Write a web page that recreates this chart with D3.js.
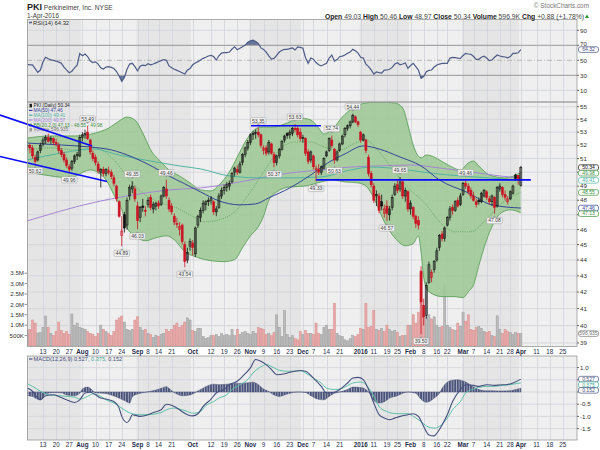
<!DOCTYPE html>
<html><head><meta charset="utf-8">
<script src="https://cdn.jsdelivr.net/npm/d3@7"></script>
<style>body{margin:0;background:#fff}svg{display:block;font-family:"Liberation Sans",Arial,sans-serif}</style>
</head><body><svg id="chart" width="600" height="450"></svg>
<script>
// ---------------- DATA ----------------
const symbol = "PKI", company = "Perkinelmer, Inc.", exchange = "NYSE", asOf = "1-Apr-2016";
const firstSession = "2015-07-02", lastSession = "2016-04-29", anchorSession = "2015-07-13";
const holidays = ["2015-07-03","2015-09-07","2015-11-26","2015-12-25","2016-01-01","2016-01-18","2016-02-15","2016-03-25"];

// daily series, one value per session from 2015-07-02 to 2016-04-01
const opens = [52.0,52.0,51.8,51.1,50.9,51.6,52.1,52.4,52.6,52.4,
52.5,52.2,52.0,51.6,51.3,50.9,50.4,50.3,50.8,51.2,
51.2,52.6,52.8,53.0,52.4,51.4,51.1,50.6,50.0,50.2,
49.9,50.1,50.0,49.6,49.0,47.9,45.6,47.0,46.3,48.3,
48.8,48.8,47.6,46.8,47.6,47.3,47.7,48.2,47.4,47.6,
47.8,47.7,48.3,48.8,48.0,47.6,46.9,46.4,46.0,46.3,
45.0,44.0,44.9,45.1,44.4,46.3,46.8,47.3,47.7,47.9,
48.0,47.9,47.2,47.5,48.3,48.7,48.9,49.0,49.3,50.0,
50.2,50.0,50.7,51.3,51.8,52.2,52.8,52.9,53.0,52.8,
51.6,51.8,51.5,52.1,51.3,50.7,51.2,51.7,52.4,52.9,
52.8,52.9,53.3,53.3,53.0,52.5,52.5,51.5,50.9,51.2,
50.2,50.2,50.0,50.3,51.2,51.6,52.4,51.7,50.9,51.6,
52.1,52.8,53.3,53.5,53.8,54.2,53.8,53.0,52.4,52.4,
51.1,49.9,49.0,48.3,48.3,47.9,47.1,47.6,47.0,47.5,
48.4,49.1,48.8,49.3,48.3,48.6,47.4,47.5,46.9,46.6,
43.3,41.2,40.6,42.6,42.9,43.4,44.0,44.8,45.7,45.4,
46.3,46.8,47.5,47.3,48.0,47.7,48.4,49.2,49.0,48.7,
48.3,47.9,48.0,47.9,48.3,48.6,48.1,47.9,48.2,47.6,
48.8,48.9,48.4,47.9,48.1,48.5,49.8,49.75,49.03];
const highs = [52.3,52.1,52.0,51.3,51.6,52.2,52.6,52.8,52.9,52.7,
52.6,52.5,52.2,51.8,51.5,51.1,50.6,50.9,51.3,51.5,
52.8,53.0,53.2,53.49,52.5,51.6,51.3,50.8,50.3,50.4,
50.3,50.4,50.2,49.8,49.1,48.0,46.9,47.2,48.2,49.1,
49.35,49.0,47.9,47.6,48.1,47.6,48.2,48.4,47.9,47.9,
48.0,48.4,49.0,49.46,48.2,47.8,47.1,46.8,46.5,46.4,
45.2,44.8,45.4,45.3,46.2,47.0,47.5,48.0,48.0,48.2,
48.3,48.0,47.6,48.5,48.9,49.1,49.3,49.4,50.0,50.4,
50.5,50.8,51.4,51.9,52.4,52.9,53.1,53.2,53.35,52.9,
52.0,52.0,52.4,52.2,51.5,51.3,51.8,52.4,52.8,53.0,
53.2,53.4,53.63,53.5,53.3,52.8,52.6,51.7,51.6,51.3,
50.5,50.6,50.5,51.1,51.6,52.6,52.74,51.8,51.6,52.2,
52.8,53.4,53.6,53.9,54.44,54.3,53.9,53.1,52.9,52.5,
51.3,50.1,49.2,48.7,48.5,48.4,47.7,48.0,47.6,48.4,
49.2,49.5,49.65,49.5,48.9,48.7,48.0,47.6,47.0,46.9,
43.6,41.6,42.6,43.9,43.4,44.0,44.8,45.7,45.9,46.2,
46.9,47.6,47.7,48.0,48.2,48.5,49.3,49.46,49.2,48.9,
48.6,48.1,48.2,48.6,48.8,48.7,48.3,48.4,48.3,49.0,
49.2,49.0,48.7,48.3,48.7,49.1,49.9,49.8,50.46];
const lows = [51.6,51.4,51.0,50.62,50.8,51.4,51.9,52.1,52.2,52.1,
52.0,51.9,51.4,51.1,50.7,50.3,49.96,50.1,50.6,50.9,
51.1,52.3,52.5,52.4,51.3,50.8,50.5,49.9,48.9,49.7,
49.7,49.8,49.5,49.0,47.9,46.8,44.89,45.8,46.0,48.0,
48.5,47.9,46.03,46.5,47.2,46.9,47.5,47.3,47.1,47.3,
47.4,47.6,48.2,48.1,47.2,47.0,46.3,46.1,45.6,45.0,
43.54,43.8,44.6,44.3,44.2,46.1,46.5,47.1,47.3,47.6,
47.7,47.0,46.9,47.4,48.1,48.4,48.6,48.7,49.2,49.7,
49.8,49.9,50.5,51.1,51.6,52.0,52.4,52.5,52.6,51.8,
51.3,51.2,51.3,51.3,50.37,50.5,51.0,51.6,52.2,52.5,
52.5,52.7,53.0,52.6,52.3,52.2,51.2,50.6,50.7,50.2,
49.33,49.8,49.8,50.2,51.1,51.5,51.8,50.63,50.8,51.5,
52.0,52.6,53.1,53.3,53.7,53.7,53.4,52.2,52.3,51.4,
49.7,48.9,47.8,47.6,47.1,47.3,46.8,46.57,46.6,47.3,
48.3,48.5,48.6,48.1,47.9,47.2,47.0,46.7,46.1,46.0,
39.50,40.0,40.4,42.5,42.6,43.2,43.9,44.6,45.2,45.2,
46.2,46.6,47.0,47.2,47.5,47.6,48.3,48.8,48.4,48.1,
47.9,47.5,47.7,47.8,48.2,48.0,47.7,47.6,47.08,47.5,
48.6,48.2,48.0,47.7,48.0,48.4,49.4,49.1,48.97];
const closes = [51.9,51.8,51.2,50.8,51.5,52.0,52.4,52.6,52.3,52.5,
52.2,52.1,51.6,51.3,50.9,50.5,50.2,50.8,51.2,51.3,
52.6,52.8,52.9,52.5,51.5,51.0,50.7,50.1,50.2,49.9,
50.2,50.0,49.7,49.2,48.1,46.9,45.9,46.1,48.0,48.9,
49.0,48.1,46.6,47.5,47.5,47.3,48.0,47.5,47.7,47.8,
47.6,48.3,48.9,48.3,47.4,47.2,46.5,46.4,46.2,45.2,
43.9,44.5,45.2,44.8,46.1,46.9,47.3,47.8,47.9,48.0,
48.1,47.2,47.4,48.3,48.7,48.9,49.1,49.2,49.9,50.3,
50.0,50.6,51.3,51.8,52.2,52.8,52.9,53.0,52.8,52.0,
51.8,51.4,52.2,51.4,50.7,51.2,51.7,52.3,52.7,52.75,
53.0,53.3,53.2,52.8,52.5,52.6,51.4,50.8,51.5,50.4,
50.3,50.0,50.4,51.0,51.5,52.5,52.0,50.9,51.5,52.1,
52.7,53.3,53.5,53.8,54.3,53.8,53.6,52.4,52.8,51.6,
49.9,49.1,48.0,48.4,47.3,47.6,47.4,47.1,47.4,48.2,
49.0,48.7,49.3,48.3,48.7,47.4,47.8,46.9,46.4,46.3,
41.4,40.5,42.4,43.7,43.2,43.9,44.6,45.6,45.4,46.1,
46.8,47.4,47.3,47.9,47.6,48.3,49.2,49.0,48.6,48.3,
48.0,47.7,47.9,48.5,48.7,48.2,47.9,48.3,47.5,48.9,
49.0,48.4,48.2,48.1,48.6,49.0,49.55,49.46,50.34];
const volumes = [0.77,0.80,1.25,1.10,0.62,0.65,0.90,1.44,0.90,0.60,
0.50,0.70,1.15,0.75,0.60,0.70,0.55,1.54,1.00,1.10,
0.90,0.85,0.80,0.70,0.60,0.55,0.45,0.60,1.00,0.80,
0.70,0.60,0.50,0.70,1.25,1.35,1.44,1.15,0.80,0.75,
0.80,1.25,1.40,0.90,0.75,0.80,0.60,0.55,0.40,0.50,
0.45,0.55,0.60,0.80,0.70,0.80,1.00,1.10,0.90,1.00,
1.15,1.35,1.25,0.75,0.70,0.85,0.85,0.45,0.35,0.40,
0.50,0.50,0.55,0.45,0.60,0.50,0.55,0.50,0.80,0.50,
0.80,0.55,0.65,0.70,0.60,0.55,0.70,0.60,0.88,0.85,
0.80,0.55,0.60,0.50,0.65,1.50,0.90,0.45,1.70,0.55,
0.40,0.50,0.35,0.30,0.70,0.55,0.75,0.60,0.60,0.55,
1.10,0.60,0.55,0.90,1.00,0.80,0.80,2.05,0.60,0.50,
0.45,0.30,0.25,0.35,0.50,0.45,0.55,0.85,0.80,2.05,
0.90,0.95,1.70,0.80,0.75,0.85,0.70,1.00,0.80,0.70,
0.75,0.65,0.45,0.50,0.50,1.00,1.00,1.50,1.10,1.60,
3.55,1.35,1.40,1.50,1.30,1.40,1.00,0.90,0.95,2.93,
1.00,0.90,0.80,0.75,1.10,0.95,1.60,1.20,1.50,0.80,
0.75,0.90,0.95,0.85,0.70,0.65,0.70,0.50,0.45,1.45,
0.80,0.60,0.80,0.70,0.65,0.55,0.65,0.60,0.596935];
const rsi14 = [44.6,44.0,43.8,39,34,37,48,54,52,50.5,
50,49,47.5,46,41,37,33.5,35.5,40,43.5,
59,56,58.4,55,49,47,48,45,40,38.4,
41,41.5,40.5,39,35,29,22,27,38,45,
46,41.5,36,42,43.5,42.8,45.5,44,45,46.5,
48,49.5,51,50,42.5,40,38,36.5,35,33.5,
31.7,37,39,44,46.5,48.2,50.5,52.6,54,55.7,
56.5,55,50.4,56,59.5,60.2,60.2,61,65,68,
64,66,68,70,74,76,77,75,72.6,66.5,
64.5,61,56,51.7,52.6,56.5,61,63.5,64.6,64.6,
65.5,66.4,63.7,68,67.3,66,53.5,46,53,51.5,
47,44,42.5,44.5,46,53,57,49,51,54.8,
55.5,57,59.5,61,64.6,62.8,59.5,54,53,45,
41.5,37.1,31.7,34.5,33.5,32.8,37,37.1,38,40.5,
45,46.8,44,45,46.5,39.3,43,46,41.5,37,
26,28.2,34.8,36.5,37.1,41,43.7,45,46,46,
46,53,54,53.5,53,52.6,56.5,59.3,58.4,58,
55,51.3,51.3,54,55.5,53,49.5,50.4,54,57.1,
55.7,55,54.4,53.4,55,59.3,59.3,60,64.32];

// overlays: [session offset from 2015-07-13, value]
const ma50 = [[-6,52.17],[7,52.02],[18,51.87],[26,51.65],[34,51.12],[42,50.38],[48,49.73],[54,49.16],[60,48.59],[67,47.96],[75,47.68],[81,47.75],[86,48.17],[94,48.87],[102,49.80],[109,50.75],[115,51.35],[122,51.95],[128,51.72],[136,51.12],[144,50.46],[151,49.44],[162,48.52],[171,47.68],[182,47.46]];
const ma100 = [[-6,50.90],[7,51.42],[19,51.72],[29,51.27],[41,50.82],[52,50.46],[60,50.24],[71,49.73],[83,49.59],[94,49.59],[106,49.66],[117,50.16],[125,50.38],[136,50.24],[147,49.95],[159,49.73],[170,49.59],[182,49.41]];
const ma200 = [[-6,46.58],[3,47.06],[14,47.61],[26,48.10],[37,48.45],[48,48.73],[60,48.87],[71,49.16],[83,49.59],[94,49.95],[106,50.16],[117,50.38],[128,50.46],[140,50.53],[151,50.31],[163,50.02],[174,49.73],[182,49.57]];
const bbUpper = [[-6,52.55],[3,52.71],[12,52.71],[20,52.94],[25,53.32],[29,53.87],[32,54.18],[35,53.95],[38,52.94],[41,51.65],[45,50.75],[48,50.16],[52,49.73],[56,49.23],[60,48.73],[64,48.66],[67,49.08],[71,50.02],[74,51.12],[77,52.25],[80,53.09],[83,53.40],[88,53.40],[93,53.71],[98,54.10],[102,53.95],[105,53.32],[107,52.86],[110,53.17],[114,54.18],[118,54.90],[123,55.30],[128,55.38],[134,55.30],[137,54.90],[139,53.56],[141,52.02],[144,51.05],[146,51.27],[148,51.20],[151,50.90],[155,50.46],[159,50.16],[162,50.68],[164,50.82],[166,50.46],[170,49.80],[176,49.59],[182,49.98]];
const bbMiddle = [[-6,51.65],[3,51.80],[12,51.65],[20,51.80],[27,50.90],[33,49.44],[39,48.38],[45,47.82],[50,47.54],[56,46.99],[62,46.52],[67,46.65],[73,47.20],[79,48.59],[85,50.31],[90,51.65],[96,52.25],[102,52.25],[107,51.87],[113,51.65],[119,52.17],[123,52.40],[128,51.50],[134,50.02],[140,48.73],[146,47.68],[151,46.52],[157,45.85],[163,45.85],[168,46.52],[174,47.68],[182,48.55]];
const bbLower = [[-6,50.02],[3,49.73],[10,49.59],[18,50.16],[24,49.44],[27,48.38],[30,47.34],[32,46.12],[35,45.58],[39,45.25],[43,45.45],[47,45.58],[50,45.32],[54,44.54],[58,44.22],[64,43.96],[69,43.90],[73,44.03],[76,44.80],[79,45.58],[82,46.18],[84,46.90],[86,48.00],[89,48.59],[94,48.94],[100,49.01],[106,49.30],[110,49.44],[115,49.30],[120,49.23],[123,49.01],[126,48.17],[130,46.52],[134,45.45],[138,44.93],[141,45.06],[143,45.58],[144,44.54],[145,42.89],[147,42.02],[152,41.72],[157,41.72],[160,41.66],[162,42.02],[164,42.45],[166,43.64],[168,44.80],[170,45.78],[172,46.52],[174,47.06],[178,47.34],[182,47.13]];
const macdLine = [[-6,0.16],[-4,0.03],[-2,-0.25],[-1,-0.32],[1,-0.15],[4,-0.11],[6,-0.18],[9,-0.32],[12,-0.43],[14,-0.32],[16,-0.04],[18,-0.01],[20,-0.11],[22,-0.25],[24,-0.29],[27,-0.39],[29,-0.66],[30,-1.0],[32,-1.25],[33,-1.14],[34,-0.93],[36,-0.98],[37,-1.0],[40,-0.93],[42,-0.84],[45,-0.73],[47,-0.5],[50,-0.59],[52,-0.73],[55,-0.93],[57,-0.98],[59,-0.89],[61,-0.59],[64,-0.29],[66,-0.04],[69,0.1],[71,0.3],[74,0.44],[76,0.64],[79,0.99],[81,1.33],[83,1.26],[85,1.12],[87,0.92],[89,0.71],[92,0.75],[94,0.81],[98,0.88],[100,0.85],[103,0.57],[106,0.23],[108,-0.04],[111,-0.01],[113,0.1],[116,0.37],[118,0.57],[120,0.6],[122,0.51],[124,0.1],[126,-0.45],[128,-0.93],[130,-1.07],[132,-1.14],[134,-1.07],[136,-1.0],[139,-0.93],[141,-0.89],[143,-1.0],[145,-1.41],[147,-1.76],[149,-1.8],[150,-1.69],[152,-1.35],[154,-0.93],[156,-0.39],[159,0.1],[161,0.3],[164,0.27],[166,0.23],[169,0.3],[172,0.27],[174,0.29],[177,0.31],[179,0.37],[182,0.527]];
const macdSignal = [[-6,0.34],[-4,0.23],[-1,0.03],[1,-0.08],[4,-0.14],[6,-0.15],[9,-0.18],[12,-0.21],[14,-0.29],[17,-0.18],[19,-0.08],[22,-0.18],[24,-0.32],[27,-0.45],[29,-0.59],[32,-0.8],[34,-0.89],[37,-0.93],[40,-0.93],[42,-0.91],[45,-0.84],[47,-0.73],[50,-0.66],[52,-0.7],[55,-0.8],[57,-0.87],[60,-0.8],[62,-0.56],[65,-0.39],[67,-0.25],[70,-0.11],[72,0.1],[75,0.3],[78,0.51],[80,0.78],[83,1.03],[85,1.12],[88,0.99],[90,0.89],[93,0.85],[95,0.85],[98,0.87],[100,0.78],[103,0.57],[106,0.37],[108,0.16],[111,0.1],[113,0.12],[116,0.26],[118,0.37],[121,0.41],[123,0.3],[126,-0.18],[128,-0.59],[131,-0.8],[133,-0.87],[136,-0.89],[139,-0.89],[141,-1.0],[144,-1.21],[146,-1.39],[149,-1.48],[151,-1.41],[154,-1.07],[156,-0.73],[159,-0.39],[161,-0.04],[164,0.12],[166,0.19],[169,0.23],[172,0.23],[174,0.26],[177,0.29],[179,0.32],[182,0.375]];
const macdHist = [[-6,-0.15],[-4,-0.18],[-2,-0.3],[-1,-0.32],[1,-0.08],[4,-0.02],[7,-0.03],[9,-0.12],[12,-0.15],[14,-0.05],[15,0.12],[17,0.2],[19,0.05],[20,-0.04],[23,-0.05],[26,-0.12],[28,-0.2],[31,-0.35],[33,-0.45],[34,-0.2],[36,-0.08],[38,-0.03],[41,0.03],[43,0.08],[45,0.15],[47,0.22],[48,0.15],[49,0.05],[51,-0.08],[53,-0.15],[56,-0.12],[58,-0.02],[60,0.1],[62,0.22],[65,0.32],[67,0.3],[70,0.32],[73,0.35],[75,0.35],[78,0.38],[80,0.4],[82,0.3],[84,0.12],[86,0.02],[88,-0.12],[90,-0.18],[92,-0.12],[94,-0.05],[97,0.0],[100,-0.02],[102,-0.15],[105,-0.3],[107,-0.32],[109,-0.18],[111,-0.05],[113,0.0],[116,0.1],[118,0.2],[121,0.18],[123,0.1],[125,-0.15],[126,-0.35],[128,-0.45],[130,-0.4],[132,-0.25],[135,-0.15],[137,-0.05],[139,0.0],[142,-0.05],[144,-0.3],[146,-0.42],[147,-0.4],[149,-0.25],[151,-0.05],[152,0.15],[154,0.4],[156,0.48],[158,0.5],[160,0.45],[162,0.35],[164,0.2],[166,0.1],[168,0.05],[170,0.05],[173,0.04],[175,0.04],[178,0.05],[180,0.1],[182,0.152]];

// swing-point annotations: [session offset, H/L]
const swings = [[-3,"L"],[10,"L"],[17,"H"],[30,"L"],[34,"H"],[36,"L"],[47,"H"],[54,"L"],[82,"H"],[88,"L"],[96,"H"],[104,"L"],[110,"H"],[111,"L"],[118,"H"],[131,"L"],[136,"H"],[144,"L"],[161,"H"],[172,"L"]];
// drawn trend lines: [offset1, price1, offset2, price2]
const trendLines = [[-16.4,54.34,18.7,51.95],[-16.4,51.16,24.4,49.33],[79.2,53.50,105.9,53.50],[104,49.44,185.8,49.44]];

const tickDates = ["2015-07-13","2015-07-20","2015-07-27","2015-08-03","2015-08-10","2015-08-17","2015-08-24","2015-09-01","2015-09-08","2015-09-14","2015-09-21","2015-10-01","2015-10-12","2015-10-19","2015-10-26","2015-11-02","2015-11-09","2015-11-16","2015-11-23","2015-12-01","2015-12-07","2015-12-14","2015-12-21","2016-01-04","2016-01-11","2016-01-19","2016-01-25","2016-02-01","2016-02-08","2016-02-16","2016-02-22","2016-03-01","2016-03-07","2016-03-14","2016-03-21","2016-03-28","2016-04-01","2016-04-11","2016-04-18","2016-04-25"];
const tickLabels = ["13","20","27","Aug","10","17","24","Sep","8","14","21","Oct","12","19","26","Nov","9","16","23","Dec","7","14","21","2016","11","19","25","Feb","8","16","22","Mar","7","14","21","28","Apr","11","18","25"];
const priceTicks = [39,40,41,42,43,44,45,46,47,48,49,50,51,52,53,54,55];
const volumeTicks = [0.5,1.0,1.5,2.0,2.5,3.0,3.5];
const volumeTickLabels = ["500K","1.0M","1.5M","2.0M","2.5M","3.0M","3.5M"];
const rsiTicks = [10,30,50,70,90];
const macdTicks = [-1.5,-1.0,-0.5,0.0,0.5,1.0];

// ---------------- CHART ----------------
const svg = d3.select("#chart");
svg.append("rect").attr("width",600).attr("height",450).attr("fill","#fff");
const parse = d3.utcParse("%Y-%m-%d"), fmt = d3.utcFormat("%Y-%m-%d");
const sessions = [];
for (let d = parse(firstSession); d <= parse(lastSession); d = d3.utcDay.offset(d,1)) {
  const wd = d.getUTCDay(), s = fmt(d);
  if (wd===0 || wd===6 || holidays.includes(s)) continue;
  sessions.push(s);
}
const base = sessions.indexOf(anchorSession);
const idx = s => sessions.indexOf(s) - base;
const N = closes.length;
const last = a => a[a.length-1][1];

const L = 27, R = 577;
const PR = [19.5,102], PM = [102,346.5], PD = [356,440];
const x = d3.scaleLinear().domain([-6.1,203.4]).range([L,R]);
const yP = d3.scaleLog().domain([38.8,55.38]).range([PM[1],PM[0]]);
const yV = d3.scaleLinear().domain([0,3.5]).range([346,273.2]);
const yR = d3.scaleLinear().domain([0,100]).range([97.8,22.8]);
const yM = d3.scaleLinear().domain([-1.5,1.0]).range([428.6,367.6]);

const defs = svg.append("defs");
function clip(id,p){defs.append("clipPath").attr("id",id).append("rect").attr("x",L).attr("y",p[0]).attr("width",R-L).attr("height",p[1]-p[0]);}
clip("cR",PR); clip("cM",PM); clip("cD",PD);

// month bands
const monthStarts = [];
sessions.forEach((s,k)=>{ if(k===0 || s.slice(0,7)!==sessions[k-1].slice(0,7)) monthStarts.push(k-base); });
monthStarts.push(sessions.length-base+40);
const grid = "#d2d3d9";
function panelBg(p){
  const g = svg.append("g");
  for (let m=0;m<monthStarts.length-1;m++){
    const a = Math.max(L,x(monthStarts[m]-0.5)), b = Math.min(R,x(monthStarts[m+1]-0.5));
    if (b<=a) continue;
    g.append("rect").attr("x",a).attr("y",p[0]).attr("width",b-a).attr("height",p[1]-p[0]).attr("fill",m%2===0?"#e5e5e5":"#efefef");
  }
  tickDates.forEach(t=>{ const xx=Math.round(x(idx(t)))+0.5;
    g.append("line").attr("x1",xx).attr("x2",xx).attr("y1",p[0]).attr("y2",p[1]).attr("stroke",grid).attr("stroke-width",0.8); });
  return g;
}
const gR = panelBg(PR), gM = panelBg(PM), gD = panelBg(PD);
priceTicks.forEach(v=>gM.append("line").attr("x1",L).attr("x2",R).attr("y1",yP(v)).attr("y2",yP(v)).attr("stroke",grid).attr("stroke-width",0.8));
[10,90].forEach(v=>gR.append("line").attr("x1",L).attr("x2",R).attr("y1",yR(v)).attr("y2",yR(v)).attr("stroke",grid).attr("stroke-width",0.8));
macdTicks.forEach(v=>gD.append("line").attr("x1",L).attr("x2",R).attr("y1",yM(v)).attr("y2",yM(v)).attr("stroke",grid).attr("stroke-width",0.8));

const txt = (g,xx,yy,s,size,fill,anchor,weight) => g.append("text").attr("x",xx).attr("y",yy).attr("font-size",size).attr("fill",fill||"#333").attr("text-anchor",anchor||"start").attr("font-weight",weight||"normal").text(s);

// ---------- RSI panel ----------
const rsiPts = rsi14.map((v,k)=>[k-base,v]);
const rc = svg.append("g").attr("clip-path","url(#cR)");
defs.append("clipPath").attr("id","rHi").append("rect").attr("x",L).attr("y",PR[0]).attr("width",R-L).attr("height",yR(70)-PR[0]);
defs.append("clipPath").attr("id","rLo").append("rect").attr("x",L).attr("y",yR(30)).attr("width",R-L).attr("height",PR[1]-yR(30));
rc.append("path").attr("clip-path","url(#rHi)").attr("fill","#66759a").attr("d",d3.area().x(d=>x(d[0])).y0(yR(70)).y1(d=>yR(d[1]))(rsiPts));
rc.append("path").attr("clip-path","url(#rLo)").attr("fill","#66759a").attr("d",d3.area().x(d=>x(d[0])).y0(yR(30)).y1(d=>yR(d[1]))(rsiPts));
[70,30].forEach(v=>rc.append("line").attr("x1",L).attr("x2",R).attr("y1",yR(v)).attr("y2",yR(v)).attr("stroke","#9a9a9a").attr("stroke-width",1));
rc.append("line").attr("x1",L).attr("x2",R).attr("y1",yR(50)).attr("y2",yR(50)).attr("stroke","#aaa").attr("stroke-dasharray","5,2,1,2").attr("stroke-width",0.8);
rc.append("path").attr("fill","none").attr("stroke","#4e5c88").attr("stroke-width",1.2).attr("d",d3.line().x(d=>x(d[0])).y(d=>yR(d[1]))(rsiPts));
rc.append("line").attr("x1",29).attr("x2",32).attr("y1",22.5).attr("y2",22.5).attr("stroke","#4e5c88").attr("stroke-width",1.5);
txt(svg,33,24.5,"RSI(14) "+rsi14[N-1].toFixed(2),5.8,"#333");

// ---------- Main panel ----------
const mc = svg.append("g").attr("clip-path","url(#cM)");
for (let k=0;k<N;k++){
  const i=k-base, down = k>0 && closes[k]<closes[k-1];
  mc.append("rect").attr("x",x(i)-1.05).attr("width",2.1).attr("y",yV(volumes[k])).attr("height",yV(0)-yV(volumes[k]))
    .attr("fill",down?"#eaaaaa":"#bababa").attr("stroke",down?"#d58a8a":"#9c9c9c").attr("stroke-width",0.5);
}
const curve = d3.curveMonotoneX;
const lineP = d3.line().x(d=>x(d[0])).y(d=>yP(d[1])).curve(curve);
const upD = lineP(bbUpper), loD = lineP(bbLower);
const x0 = x(bbUpper[0][0]), x1 = x(bbUpper[bbUpper.length-1][0]);
defs.append("clipPath").attr("id","bbClip").append("path").attr("d",upD+`L${x1},400L${x0},400Z`);
mc.append("path").attr("clip-path","url(#bbClip)").attr("fill","#a0c997").attr("fill-opacity",0.9).attr("d",loD+`L${x1},60L${x0},60Z`);
mc.append("path").attr("fill","none").attr("stroke","#4f9a4f").attr("stroke-width",0.8).attr("d",upD);
mc.append("path").attr("fill","none").attr("stroke","#4f9a4f").attr("stroke-width",0.8).attr("d",loD);
mc.append("path").attr("fill","none").attr("stroke","#4f9a4f").attr("stroke-width",0.7).attr("stroke-dasharray","1,1.2").attr("d",lineP(bbMiddle));
const cMA50="#33449a", cMA100="#52b3a3", cMA200="#a586d6", cBB="#3f8f3f";
mc.append("path").attr("fill","none").attr("stroke",cMA200).attr("stroke-width",1).attr("d",lineP(ma200));
mc.append("path").attr("fill","none").attr("stroke",cMA100).attr("stroke-width",1).attr("d",lineP(ma100));
mc.append("path").attr("fill","none").attr("stroke",cMA50).attr("stroke-width",1).attr("d",lineP(ma50));
for (let k=0;k<N;k++){
  const i=k-base, o=opens[k], c=closes[k];
  const col = (k>0 && c<closes[k-1]) ? "#cc1424" : "#111";
  const xx = x(i);
  mc.append("line").attr("x1",xx).attr("x2",xx).attr("y1",yP(highs[k])).attr("y2",yP(lows[k])).attr("stroke",col).attr("stroke-width",0.8);
  const top = yP(Math.max(o,c)), bot = yP(Math.min(o,c));
  mc.append("rect").attr("x",xx-1).attr("width",2).attr("y",top).attr("height",Math.max(0.8,bot-top))
    .attr("fill", c>o ? "none" : col).attr("stroke",col).attr("stroke-width",0.6);
}
swings.forEach(([i,t])=>{
  const k=i+base, v = t==="H"?highs[k]:lows[k], cx=x(i);
  const cy = yP(v) + (t==="H"?-7:7), w=15.5, h=6.2;
  const g = mc.append("g");
  const tip = t==="H" ? `M${cx-1.6},${cy+h/2}L${cx+1.6},${cy+h/2}L${cx},${cy+h/2+1.8}Z` : `M${cx-1.6},${cy-h/2}L${cx+1.6},${cy-h/2}L${cx},${cy-h/2-1.8}Z`;
  g.append("rect").attr("x",cx-w/2).attr("y",cy-h/2).attr("width",w).attr("height",h).attr("rx",1).attr("fill","#f3f3f3").attr("stroke","#9c9c9c").attr("stroke-width",0.5);
  g.append("path").attr("d",tip).attr("fill","#9c9c9c");
  txt(g,cx,cy+1.9,v.toFixed(2),5.1,"#444","middle");
});
// legend
const lg = svg.append("g");
const legendRows = [
  ["PKI (Daily) "+closes[N-1].toFixed(2),"#222","box"],
  ["MA(50) "+last(ma50).toFixed(2),cMA50,"line"],
  ["MA(100) "+last(ma100).toFixed(2),cMA100,"line"],
  ["MA(200) "+last(ma200).toFixed(2),cMA200,"line"],
  ["BB(20,2.0) "+last(bbLower).toFixed(2)+" - "+last(bbMiddle).toFixed(2)+" - "+last(bbUpper).toFixed(2),cBB,"bb"],
  ["Volume "+d3.format(",")(Math.round(volumes[N-1]*1e6)),"#777","vol"]];
legendRows.forEach(([s,c,ic],r)=>{
  const yy = 105.6+r*4.8;
  if(ic==="line") lg.append("line").attr("x1",29).attr("x2",32.5).attr("y1",yy).attr("y2",yy).attr("stroke",c).attr("stroke-width",1.2);
  else if(ic==="box") lg.append("rect").attr("x",29.5).attr("y",yy-1.8).attr("width",2.5).attr("height",3.6).attr("fill","#222");
  else if(ic==="bb") lg.append("path").attr("d",`M29,${yy+1.8}L31,${yy-1.8}L33,${yy+1.8}Z`).attr("fill","#5aa05a");
  else lg.append("rect").attr("x",29.5).attr("y",yy-1.5).attr("width",2.5).attr("height",3.3).attr("fill","#999");
  txt(lg,33.5,yy+1.7,s,4.8,c);
});
trendLines.forEach(([i1,p1,i2,p2])=>svg.append("line").attr("x1",x(i1)).attr("y1",yP(p1)).attr("x2",x(i2)).attr("y2",yP(p2)).attr("stroke","#0a0aff").attr("stroke-width",1.7));

// ---------- MACD panel ----------
const dc = svg.append("g").attr("clip-path","url(#cD)");
const step = x(1)-x(0);
const pat = defs.append("pattern").attr("id","hist").attr("patternUnits","userSpaceOnUse").attr("width",step).attr("height",200).attr("patternTransform",`translate(${x(0)-0.9},0)`);
pat.append("rect").attr("x",0).attr("y",0).attr("width",1.8).attr("height",200).attr("fill","#4a5378");
pat.append("rect").attr("x",1.8).attr("y",0).attr("width",step-1.8).attr("height",200).attr("fill","#a3a8bf");
const lineM = d3.line().x(d=>x(d[0])).y(d=>yM(d[1])).curve(curve);
dc.append("path").attr("fill","url(#hist)").attr("stroke","#4a5378").attr("stroke-width",0.5).attr("d",d3.area().x(d=>x(d[0])).y0(yM(0)).y1(d=>yM(d[1])).curve(curve)(macdHist));
dc.append("path").attr("fill","none").attr("stroke","#5cc0aa").attr("stroke-width",1).attr("d",lineM(macdSignal));
dc.append("path").attr("fill","none").attr("stroke","#46507e").attr("stroke-width",1.1).attr("d",lineM(macdLine));
const mLast = last(macdLine), sLast = last(macdSignal), hLast = last(macdHist);
svg.append("line").attr("x1",29).attr("x2",32.5).attr("y1",359).attr("y2",359).attr("stroke","#46507e").attr("stroke-width",1.2);
const mt = svg.append("text").attr("x",33.5).attr("y",361).attr("font-size",5.6).attr("fill","#46507e");
mt.append("tspan").text("MACD(12,26,9) "+mLast.toFixed(3)+", ");
mt.append("tspan").attr("fill","#3fae96").text(sLast.toFixed(3));
mt.append("tspan").text(", "+hLast.toFixed(3));

[PR,PM,PD].forEach(p=>svg.append("rect").attr("x",L+0.5).attr("y",p[0]).attr("width",R-L-0.5).attr("height",p[1]-p[0]).attr("fill","none").attr("stroke","#9a9a9a").attr("stroke-width",0.8));

// ---------- value tags (placed first so covered tick labels can be skipped) ----------
const tags = [
  {p:"R",y:yR(rsi14[N-1]),s:rsi14[N-1].toFixed(2),c:"#46507e"},
  {p:"M",y:yP(closes[N-1]),s:closes[N-1].toFixed(2),c:"#111"},
  {p:"M",y:yP(last(bbUpper)),s:last(bbUpper).toFixed(2),c:cBB},
  {p:"M",y:yP(last(ma100)),s:last(ma100).toFixed(2),c:cMA100},
  {p:"M",y:yP(last(bbMiddle)),s:last(bbMiddle).toFixed(2),c:cBB},
  {p:"M",y:yP(last(ma50)),s:last(ma50).toFixed(2),c:cMA50},
  {p:"M",y:yP(last(bbLower)),s:last(bbLower).toFixed(2),c:cBB},
  {p:"V",y:yV(volumes[N-1]),s:d3.format(",")(Math.round(volumes[N-1]*1e6)),c:"#777"},
  {p:"D",y:yM(mLast),s:mLast.toFixed(3),c:"#46507e"},
  {p:"D",y:yM(sLast),s:sLast.toFixed(3),c:"#3fae96"},
  {p:"D",y:yM(hLast),s:hLast.toFixed(3),c:"#46507e"}];
["M","D"].forEach(p=>{
  const t = tags.filter(d=>d.p===p).sort((a,b)=>a.y-b.y);
  for (let j=1;j<t.length;j++) if (t[j].y < t[j-1].y+5.6) t[j].y = t[j-1].y+5.6;
});
const covered = (p,yy)=>tags.some(d=>(d.p===p||(p==="M"&&d.p==="V")) && Math.abs(d.y-yy)<3.4);
// nudge a tick label away from a nearby tag
const nudge = (p,yy)=>{ const t = tags.find(d=>d.p===p && Math.abs(d.y-yy)<7); return t ? (t.y>yy ? -1.6 : 1.2) : 0; };

// ---------- axes text ----------
const ax = svg.append("g");
rsiTicks.forEach(v=>{ax.append("line").attr("x1",R).attr("x2",R+2).attr("y1",yR(v)).attr("y2",yR(v)).attr("stroke","#666");if(!covered("R",yR(v)))txt(ax,580,yR(v)+2.2+nudge("R",yR(v)),String(v),6.2,"#333");});
priceTicks.forEach(v=>{ax.append("line").attr("x1",R).attr("x2",R+2).attr("y1",yP(v)).attr("y2",yP(v)).attr("stroke","#666");if(!covered("M",yP(v)))txt(ax,580,yP(v)+2.2,String(v),6.2,"#333");});
macdTicks.forEach(v=>{ax.append("line").attr("x1",R).attr("x2",R+2).attr("y1",yM(v)).attr("y2",yM(v)).attr("stroke","#666");if(!covered("D",yM(v)))txt(ax,580,yM(v)+2.2,v.toFixed(1),6.2,"#333");});
volumeTicks.forEach((v,j)=>{ax.append("line").attr("x1",24.5).attr("x2",L).attr("y1",yV(v)).attr("y2",yV(v)).attr("stroke","#666").attr("stroke-width",0.7);txt(ax,24,yV(v)+2.2,volumeTickLabels[j],6.2,"#333","end");});
tickDates.forEach((t,j)=>{
  const lab=tickLabels[j], bold = isNaN(+lab) || lab.length===4;
  [353.8,446.6].forEach(yy=>txt(ax,x(idx(t)),yy,lab,6.3,"#1f2d4d","middle",bold?"bold":"normal"));
});
tags.forEach(d=>{
  const g=svg.append("g");
  g.append("rect").attr("x",578.5).attr("y",d.y-2.8).attr("width",20).attr("height",5.6).attr("rx",2).attr("fill","#fff").attr("stroke",d.c).attr("stroke-width",0.7);
  txt(g,588.5,d.y+1.8,d.s,5.1,d.c,"middle");
});

// ---------- header ----------
const hd = svg.append("g");
const t1 = hd.append("text").attr("x",27).attr("y",10).attr("fill","#222");
t1.append("tspan").attr("font-size",9).attr("font-weight","bold").text(symbol);
t1.append("tspan").attr("font-size",6.6).attr("fill","#444").text(" "+company+" "+exchange);
txt(hd,27,18.3,asOf,6.4,"#444");
txt(hd,589,8,"© StockCharts.com",6.4,"#777","end");
const chg = closes[N-1]-closes[N-2];
const hr = hd.append("text").attr("x",584).attr("y",18.5).attr("text-anchor","end").attr("font-size",6.8).attr("fill","#333");
[["Open",1],[" "+opens[N-1].toFixed(2)+" ",0],["High",1],[" "+highs[N-1].toFixed(2)+" ",0],["Low",1],[" "+lows[N-1].toFixed(2)+" ",0],["Close",1],[" "+closes[N-1].toFixed(2)+" ",0],["Volume",1],[" "+(volumes[N-1]*1000).toFixed(1)+"K ",0],["Chg",1],[" +"+chg.toFixed(2)+" (+"+(chg/closes[N-2]*100).toFixed(2)+"%) ",0]]
  .forEach(([s,b])=>hr.append("tspan").attr("font-weight",b?"bold":"normal").attr("fill",b?"#222":"#444").text(s));
hd.append("path").attr("d","M585,18L587,14.5L589,18Z").attr("fill","#2a9a2a");
</script></body></html>
